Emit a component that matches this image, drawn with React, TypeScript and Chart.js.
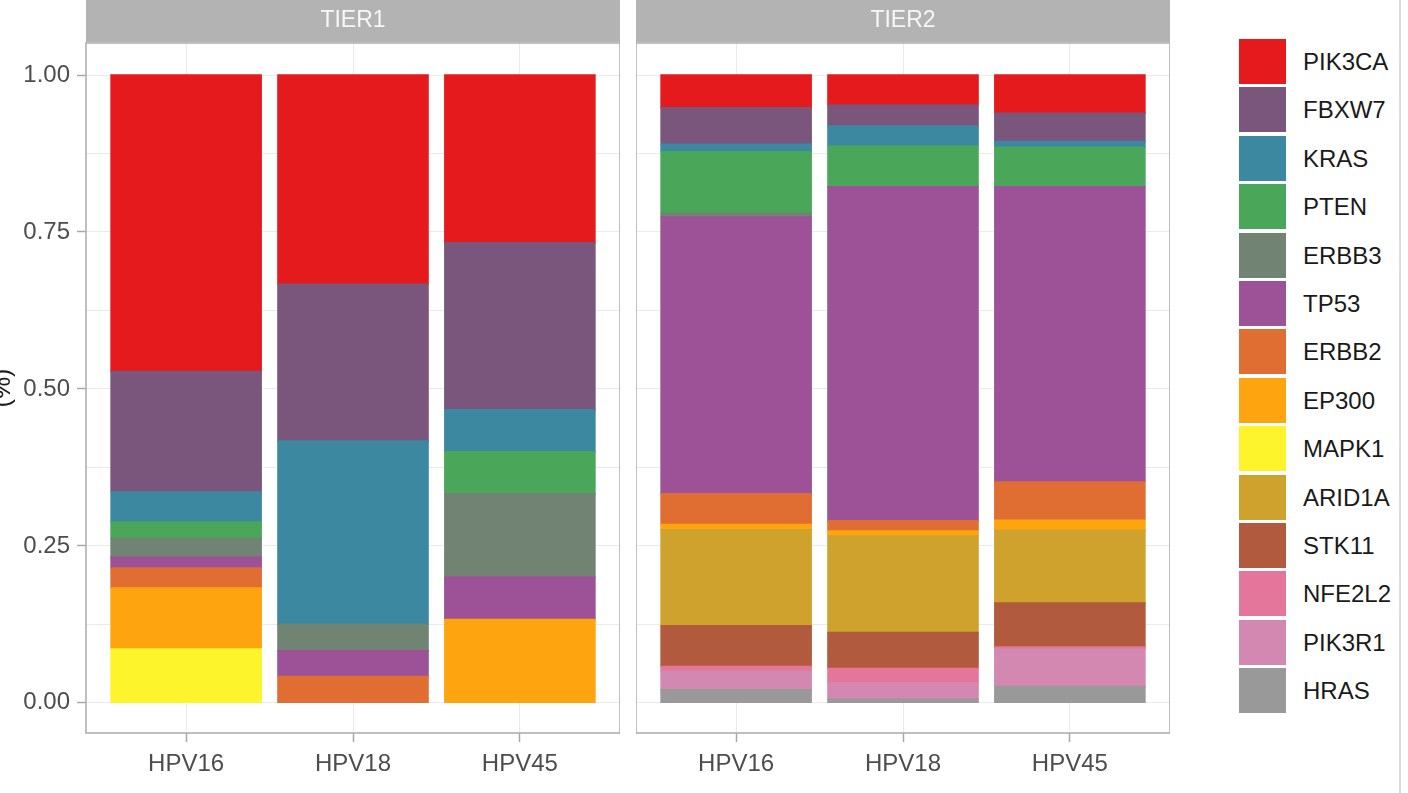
import React, { useEffect, useRef } from 'react';
import { Chart, registerables } from 'chart.js';

Chart.register(...registerables);

// ---------- data ----------
const genes = ['PIK3CA', 'FBXW7', 'KRAS', 'PTEN', 'ERBB3', 'TP53', 'ERBB2', 'EP300', 'MAPK1', 'ARID1A', 'STK11', 'NFE2L2', 'PIK3R1', 'HRAS'];
const geneColors = ['#E41A1C', '#7A567D', '#3B88A0', '#4AA75A', '#718373', '#9D5196', '#E06E33', '#FEA40F', '#FEF42B', '#CEA22C', '#B15A3D', '#E5769B', '#D388B1', '#999999'];
const hpvTypes = ['HPV16', 'HPV18', 'HPV45'];
const tierNames = ['TIER1', 'TIER2'];

// values in gene order (PIK3CA ... HRAS)
const tier1HPV16 = [0.472, 0.192, 0.048, 0.026, 0.030, 0.017, 0.032, 0.097, 0.086, 0, 0, 0, 0, 0];
const tier1HPV18 = [0.333, 0.250, 0.292, 0, 0.042, 0.041, 0.042, 0, 0, 0, 0, 0, 0, 0];
const tier1HPV45 = [0.267, 0.266, 0.067, 0.067, 0.133, 0.067, 0, 0.133, 0, 0, 0, 0, 0, 0];
const tier2HPV16 = [0.052, 0.058, 0.012, 0.098, 0.006, 0.441, 0.049, 0.008, 0, 0.153, 0.065, 0.008, 0.029, 0.021];
const tier2HPV18 = [0.048, 0.033, 0.032, 0.065, 0, 0.532, 0.016, 0.008, 0, 0.154, 0.057, 0.023, 0.026, 0.006];
const tier2HPV45 = [0.061, 0.045, 0.009, 0.063, 0, 0.470, 0.061, 0.016, 0, 0.116, 0.070, 0.003, 0.060, 0.026];

const yTickValues = [0, 0.125, 0.25, 0.375, 0.5, 0.625, 0.75, 0.875, 1];
const yLabelTicks = [0, 0.25, 0.5, 0.75, 1];
const yAxisTitle = '(%)';

// ---------- helpers ----------
const FONT = '"Liberation Sans", Arial, Helvetica, sans-serif';
Chart.defaults.font.family = FONT;

const isLabelTick = (v: number) => yLabelTicks.some((t) => Math.abs(t - v) < 1e-9);

function buildDatasets(columns: number[][]) {
  return genes
    .map((g, i) => ({
      label: g,
      // zero shares are left out so that no empty sliver is drawn
      data: columns.map((col, j) => ({ x: j + 1, y: col[i] > 0 ? col[i] : null })),
      backgroundColor: geneColors[i],
      borderWidth: 0,
      inflateAmount: 0.7,
      barPercentage: 0.9,
      categoryPercentage: 1,
    }))
    .reverse();
}

const facetPlugin = {
  id: 'facet',
  beforeDraw(chart: any, _args: any, opts: any) {
    const { ctx, chartArea } = chart;
    const { left, right, top } = chartArea;
    ctx.save();
    ctx.fillStyle = '#ffffff';
    ctx.fillRect(0, 0, chart.width, chart.height);
    ctx.fillStyle = '#b3b3b3';
    ctx.fillRect(left, 0, right - left, top - 1);
    ctx.fillStyle = '#f7f7f7';
    ctx.font = `23px ${FONT}`;
    ctx.textAlign = 'center';
    ctx.textBaseline = 'middle';
    ctx.fillText(opts.label, (left + right) / 2, top / 2 - 1);
    ctx.restore();
  },
  afterDatasetsDraw(chart: any) {
    const { ctx, chartArea } = chart;
    const { left, right, top, bottom } = chartArea;
    ctx.save();
    ctx.strokeStyle = '#b0b0b0';
    ctx.lineWidth = 1.6;
    ctx.strokeRect(left, top, right - left, bottom - top);
    ctx.restore();
  },
};

function makeConfig(tierIndex: number, columns: number[][], showYAxis: boolean): any {
  return {
    type: 'bar',
    data: { datasets: buildDatasets(columns) },
    plugins: [facetPlugin],
    options: {
      animation: false,
      responsive: false,
      devicePixelRatio: 1,
      layout: { padding: { top: 43, left: 0, right: 0, bottom: 0 } },
      plugins: {
        legend: { display: false },
        tooltip: { enabled: false },
        facet: { label: tierNames[tierIndex] },
      },
      scales: {
        x: {
          type: 'linear',
          min: 0.4,
          max: 3.6,
          stacked: true,
          offset: false,
          afterBuildTicks: (s: any) => {
            s.ticks = hpvTypes.map((_, i) => ({ value: i + 1 }));
          },
          afterFit: (s: any) => {
            s.height = 60;
          },
          ticks: {
            autoSkip: false,
            maxRotation: 0,
            padding: 8,
            color: '#4d4d4d',
            font: { size: 24 },
            callback: (v: any) => hpvTypes[Math.round(Number(v)) - 1] ?? '',
          },
          grid: { offset: false, color: '#ebebeb', lineWidth: 1, tickLength: 9, tickColor: '#a8a8a8', tickWidth: 1.5 },
          border: { display: false },
        },
        y: {
          type: 'linear',
          min: -0.048,
          max: 1.051,
          stacked: true,
          afterBuildTicks: (s: any) => {
            s.ticks = yTickValues.map((v) => ({ value: v }));
          },
          afterFit: (s: any) => {
            s.width = showYAxis ? 98 : 0;
          },
          ticks: {
            display: showYAxis,
            padding: 7,
            color: '#4d4d4d',
            font: { size: 24 },
            callback: (v: any) => (isLabelTick(Number(v)) ? Number(v).toFixed(2) : ''),
          },
          grid: {
            offset: false,
            color: '#ebebeb',
            lineWidth: 1,
            drawTicks: showYAxis,
            tickLength: 9,
            tickWidth: 1.5,
            tickColor: (ctx: any) => (ctx.tick && isLabelTick(ctx.tick.value) ? '#a8a8a8' : 'rgba(0,0,0,0)'),
          },
          border: { display: false },
          title: {
            display: showYAxis,
            text: yAxisTitle,
            color: '#1a1a1a',
            font: { size: 25, lineHeight: 1.2 },
            padding: 0,
          },
        },
      },
    },
  };
}

function FacetChart(props: { tierIndex: number; columns: number[][]; showYAxis: boolean; left: number; width: number }) {
  const ref = useRef<HTMLCanvasElement | null>(null);
  useEffect(() => {
    if (!ref.current) return;
    const chart = new Chart(ref.current, makeConfig(props.tierIndex, props.columns, props.showYAxis));
    return () => chart.destroy();
  }, []);
  return (
    <canvas
      ref={ref}
      width={props.width}
      height={793}
      style={{ position: 'absolute', left: props.left, top: 0, width: props.width, height: 793 }}
    />
  );
}

export default function App() {
  const legendTop = 39;
  const legendPitch = 48.4;
  return (
    <div
      style={{
        position: 'fixed',
        left: 0,
        top: 0,
        width: 1408,
        height: 793,
        overflow: 'hidden',
        background: '#ffffff',
        fontFamily: FONT,
      }}
    >
      <FacetChart tierIndex={0} columns={[tier1HPV16, tier1HPV18, tier1HPV45]} showYAxis={true} left={-12} width={632} />
      <FacetChart tierIndex={1} columns={[tier2HPV16, tier2HPV18, tier2HPV45]} showYAxis={false} left={636} width={534} />
      {genes.map((g, i) => (
        <div key={g}>
          <div
            style={{
              position: 'absolute',
              left: 1239,
              top: legendTop + i * legendPitch,
              width: 47,
              height: 45,
              background: geneColors[i],
            }}
          />
          <div
            style={{
              position: 'absolute',
              left: 1303,
              top: legendTop + i * legendPitch,
              height: 45,
              lineHeight: '45px',
              fontSize: 24,
              color: '#1a1a1a',
              whiteSpace: 'nowrap',
            }}
          >
            {g}
          </div>
        </div>
      ))}
      <div style={{ position: 'absolute', left: 1399, top: 0, width: 2, height: 793, background: '#dedede' }} />
    </div>
  );
}
